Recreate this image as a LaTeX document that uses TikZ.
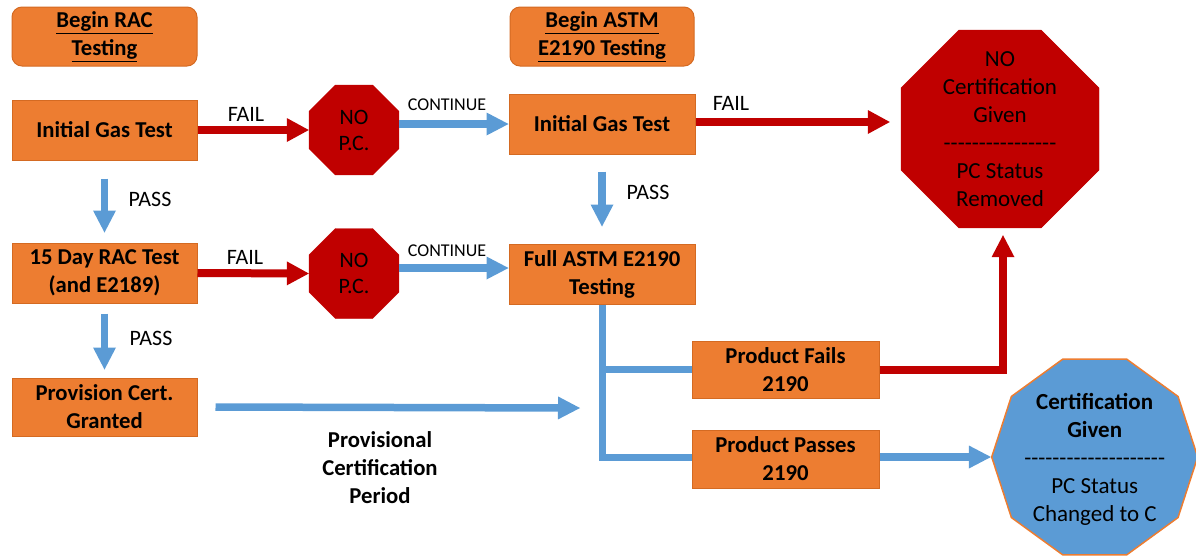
\documentclass[tikz,border=0pt]{standalone}
\usepackage{fontspec}
\setmainfont{Carlito}
\usetikzlibrary{shapes.geometric,arrows.meta}
\definecolor{boxorange}{HTML}{ED7D31}
\definecolor{boxedge}{HTML}{D46A22}
\definecolor{stopred}{HTML}{C00000}
\definecolor{flowblue}{HTML}{5B9BD5}
% a row of plain hyphens (kerns stop the -- ligature)
\newcommand\hyrow[1]{\foreach \k in {1,...,#1}{-\kern0pt}}
\begin{document}
\begin{tikzpicture}[x=1pt,y=-1pt,
  every node/.style={font=\fontsize{22.7}{28}\selectfont, align=center},
  stepbox/.style={draw=boxedge, line width=1pt, fill=boxorange,
    minimum width=185pt, minimum height=60pt, inner sep=2pt,
    font=\fontsize{22.7}{28}\selectfont\bfseries},
  startbox/.style={stepbox, rounded corners=10pt, minimum height=59pt},
  stopsign/.style={regular polygon, regular polygon sides=8, fill=stopred,
    draw=stopred, inner sep=0pt},
  passsign/.style={regular polygon, regular polygon sides=10, fill=flowblue,
    draw=boxorange, line width=1.5pt, inner sep=0pt},
  failarrow/.style={draw=stopred, line width=8pt,
    -{Triangle[length=22pt,width=24pt,line width=0pt]}},
  goarrow/.style={draw=flowblue, line width=7.5pt,
    -{Triangle[length=22pt,width=23pt,line width=0pt]}},
  goline/.style={draw=flowblue, line width=7pt},
  failline/.style={draw=stopred, line width=8pt},
  tag/.style={font=\fontsize{22}{26}\selectfont},
  smalltag/.style={font=\fontsize{18}{22}\selectfont},
  signtext/.style={font=\fontsize{23}{28}\selectfont},
]
\useasboundingbox (0,0) rectangle (1196,558);

% start boxes
\node[startbox] (rac) at (104.5,36.5) {\underline{Begin RAC}\\\underline{Testing}};
\node[startbox, minimum width=184pt] (astm) at (602,36.5) {\underline{Begin ASTM}\\\underline{E2190 Testing}};

% process boxes
\node[stepbox] (gasA) at (104.5,130) {Initial Gas Test};
\node[stepbox, minimum width=186pt] (gasB) at (602,124) {Initial Gas Test};
\node[stepbox] (racA) at (104.5,273) {15 Day RAC Test\\(and E2189)};
\node[stepbox, minimum width=186pt] (full) at (602,274) {Full ASTM E2190\\Testing};
\node[stepbox, minimum height=58pt] (prov) at (104.5,407) {Provision Cert.\\Granted};
\node[stepbox, minimum width=187pt, minimum height=57pt] (fails) at (785.5,369.5) {Product Fails\\2190};
\node[stepbox, minimum width=187pt, minimum height=58pt] (passes) at (785.5,459) {Product Passes\\2190};

% stop signs and the certification sign
\node[stopsign, minimum size=97.4pt] (npcA) at (354,130) {};
\node[stopsign, minimum size=97.4pt] (npcB) at (354,273.5) {};
\node[stopsign, minimum size=214.3pt] (nocert) at (1000,129) {};
\node[passsign, minimum size=206pt] (cert) at (1094.7,457) {};

\node[tag] (npcAtext) at (npcA) {NO\\P.C.};
\node[tag] (npcBtext) at (npcB) {NO\\P.C.};
\node[signtext] (nocerttext) at (nocert) {NO\\Certification\\Given\\\hyrow{16}\\PC Status\\Removed};
\node[signtext] (certtext) at ([yshift=-2pt]cert.center) {\textbf{Certification}\\\textbf{Given}\\\hyrow{20}\\PC Status\\Changed to C};

% fail arrows
\draw[failarrow] (gasA.east) -- (npcA.west);
\draw[failarrow] (racA.east) -- (npcB.west);
\coordinate (gasOut) at ([yshift=2pt]gasB.east);
\draw[failarrow] (gasOut) -- ([xshift=-11pt]nocert.west |- gasOut);

% continue arrows
\draw[goarrow] (npcA.east |- gasB.west) -- (gasB.west);
\coordinate (fullIn) at ([yshift=6pt]full.west);
\draw[goarrow] (npcB.east |- fullIn) -- (fullIn);

% pass arrows
\draw[goarrow] ([yshift=-18pt]gasA.south) -- ([yshift=10pt]racA.north);
\draw[goarrow] ([yshift=-17pt]gasB.south) -- ([yshift=17pt]full.north);
\draw[goarrow] ([yshift=-10pt]racA.south) -- ([yshift=8pt]prov.north);

% provisional period
\coordinate (periodEnd) at (580,408);
\draw[goarrow] ([xshift=18pt]prov.east) -- (periodEnd);

% outcome branches
\draw[goline] (full.south) |- ([yshift=2pt]passes.west);
\draw[goline] (full.south) |- (fails.west);
\draw[failline, -{Triangle[length=22pt,width=23pt,line width=0pt]}]
  (fails.east) -| ([xshift=3pt,yshift=-7pt]nocert.south);
\draw[goarrow] ([yshift=2pt]passes.east) -- (cert.west);

% labels
\node[tag] (failA) at (246,114) {FAIL};
\node[tag] (failB) at (245,257) {FAIL};
\node[tag] (failC) at (731,103) {FAIL};
\node[smalltag] (contA) at (447,105) {CONTINUE};
\node[smalltag] (contB) at (447,251) {CONTINUE};
\node[tag] (passA) at (150,199) {PASS};
\node[tag] (passB) at (648,192) {PASS};
\node[tag] (passC) at (151,338) {PASS};
\node[font=\fontsize{22.7}{28}\selectfont\bfseries] (period) at (380,468) {Provisional\\Certification\\Period};
\end{tikzpicture}
\end{document}
